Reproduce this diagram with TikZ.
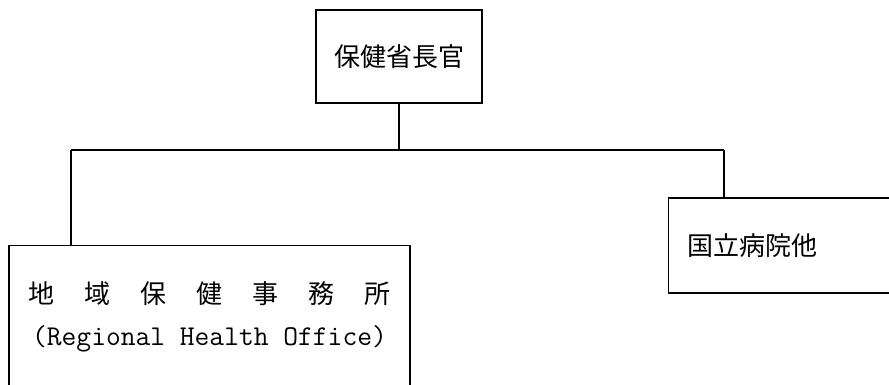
\documentclass[tikz,border=0pt]{standalone}
\usepackage{fontspec}
\newfontfamily\jpfont{Noto Sans CJK JP}
\begin{document}
\begin{tikzpicture}
  [x=1pt,y=-1pt,line width=1.2pt,every node/.style={draw,rectangle,line width=1.2pt,font=\jpfont\fontsize{26}{43}\selectfont}]
  \clip (0,0) rectangle (889,384);

  \node (chief) at (399,56.5) [minimum width=166pt,minimum height=93pt] {保健省長官};
  \node (hosp) at (668,245.5) [anchor=west,minimum height=95pt,inner xsep=19pt,text width=220pt,align=left] {国立病院他};
  \node (rho) at (209.5,245) [anchor=north,minimum width=401pt,inner ysep=36pt,align=center]
    {\makebox[362pt][s]{地 域 保 健 事 務 所}\\[-1pt]
     {\ttfamily\fontsize{28.7}{43}\selectfont (Regional Health Office)}};

  \coordinate (bus) at (399,150);
  \coordinate (lt) at (71,150);
  \coordinate (rt) at (724,150);

  \draw (chief.south) -- (bus);
  \draw (lt) -- (rt);
  \foreach \from/\to in {lt/rho,rt/hosp}
    \draw (\from) -- (\from |- \to.north);

\end{tikzpicture}
\end{document}
